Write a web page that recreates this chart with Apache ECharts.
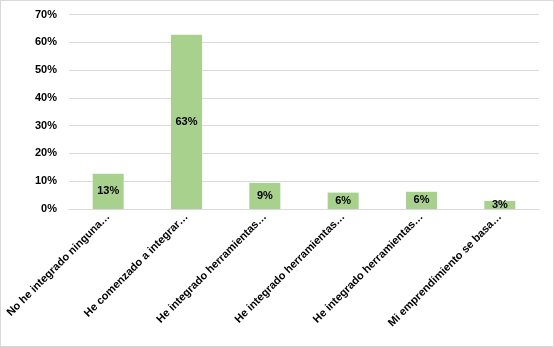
<!DOCTYPE html>
<html>
<head>
<meta charset="utf-8">
<script src="https://cdn.jsdelivr.net/npm/echarts@6/dist/echarts.min.js"></script>
<style>
  html, body { margin: 0; padding: 0; background: #fff; }
  #chart { width: 552px; height: 345px; border: 1px solid #d9d9d9; }
</style>
</head>
<body>
<div id="chart"></div>
<script>
  var categories = [
    'No he integrado ninguna…',
    'He comenzado a integrar…',
    'He integrado herramientas…',
    'He integrado herramientas…',
    'He integrado herramientas…',
    'Mi emprendimiento se basa…'
  ];
  var values = [12.7, 62.7, 9.4, 5.9, 6.2, 2.9];
  var yTicks = [0, 10, 20, 30, 40, 50, 60, 70];

  var chart = echarts.init(document.getElementById('chart'));
  chart.setOption({
    animation: false,
    grid: { left: 68, right: 14, top: 13.5, bottom: 137 },
    xAxis: {
      type: 'category',
      data: categories,
      axisLine: { lineStyle: { color: '#d9d9d9' } },
      axisTick: { show: false },
      axisLabel: {
        interval: 0,
        rotate: 45,
        margin: 6,
        color: '#000',
        fontFamily: 'Liberation Sans, Arial',
        fontWeight: 'bold',
        fontSize: 11
      }
    },
    yAxis: {
      type: 'value',
      min: yTicks[0],
      max: yTicks[yTicks.length - 1],
      interval: 10,
      axisLine: { show: false },
      axisTick: { show: false },
      splitLine: { lineStyle: { color: '#d9d9d9' } },
      axisLabel: {
        margin: 12,
        color: '#000',
        fontFamily: 'Liberation Sans, Arial',
        fontWeight: 'bold',
        fontSize: 11,
        formatter: '{value}%'
      }
    },
    series: [
      {
        type: 'bar',
        data: values,
        barWidth: 31,
        itemStyle: { color: '#a9d18e' },
        label: {
          show: true,
          position: 'inside',
          color: '#000',
          fontFamily: 'Liberation Sans, Arial',
          fontWeight: 'bold',
          fontSize: 11,
          formatter: function (p) { return Math.round(p.value) + '%'; }
        }
      }
    ]
  });
</script>
</body>
</html>
